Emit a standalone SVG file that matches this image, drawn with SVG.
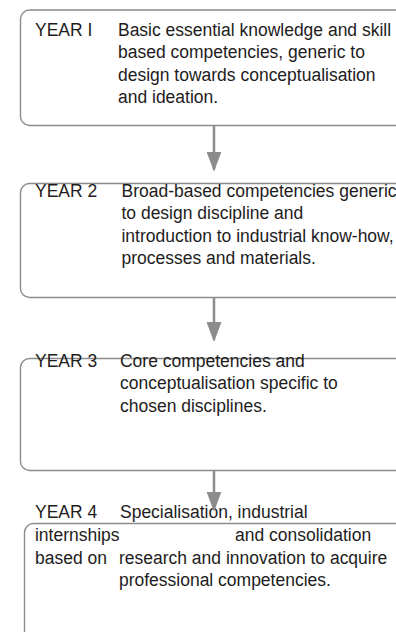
<svg xmlns="http://www.w3.org/2000/svg" width="396" height="632" viewBox="0 0 396 632">
<style>
.box{fill:#ffffff;stroke:#8c8c8c;stroke-width:1.4}
.t{font-family:'Liberation Sans',Arial,sans-serif;font-size:19px;fill:#1e1c1c}
.conn{stroke:#8c8c8c;stroke-width:2.5;fill:none}
</style>
<defs>
<marker id="ah" viewBox="0 0 20 15" refX="18" refY="7.5" markerWidth="20" markerHeight="15" markerUnits="userSpaceOnUse" orient="auto">
<path d="M0,0 L20,7.5 L0,15 z" fill="#8c8c8c"/>
</marker>
</defs>
<rect width="396" height="632" fill="#ffffff"/>
<g id="year1">
<rect class="box" x="20.5" y="10" width="420" height="115.5" rx="9"/>
<g transform="scale(0.921,1)">
<text class="t" x="38" y="35.7">YEAR I</text>
<text class="t" x="128.1" y="35.7">Basic essential knowledge and skill</text>
<text class="t" x="128.1" y="58.2">based competencies, generic to</text>
<text class="t" x="128.1" y="80.7">design towards conceptualisation</text>
<text class="t" x="128.1" y="103.2">and ideation.</text>
</g>
</g>
<g id="year2">
<rect class="box" x="20.5" y="183.5" width="420" height="114" rx="9"/>
<g transform="scale(0.921,1)">
<text class="t" x="38" y="196.7">YEAR 2</text>
<text class="t" x="131.9" y="196.7">Broad-based competencies generic</text>
<text class="t" x="131.9" y="219.2">to design discipline and</text>
<text class="t" x="131.9" y="241.7">introduction to industrial know-how,</text>
<text class="t" x="131.9" y="264.2">processes and materials.</text>
</g>
</g>
<g id="year3">
<rect class="box" x="20.5" y="358.5" width="420" height="112" rx="9"/>
<g transform="scale(0.921,1)">
<text class="t" x="38" y="366.7">YEAR 3</text>
<text class="t" x="130.3" y="366.7">Core competencies and</text>
<text class="t" x="130.3" y="389.2">conceptualisation specific to</text>
<text class="t" x="130.3" y="411.7">chosen disciplines.</text>
</g>
</g>
<g id="year4">
<rect class="box" x="24.5" y="523.5" width="420" height="160" rx="9"/>
<g transform="scale(0.921,1)">
<text class="t" x="38" y="518.5">YEAR 4</text>
<text class="t" x="130.3" y="518.5">Specialisation, industrial</text>
<text class="t" x="38" y="541.5">internships</text>
<text class="t" x="255.2" y="541.5">and consolidation</text>
<text class="t" x="38" y="564">based on</text>
<text class="t" x="129.2" y="564">research and innovation to acquire</text>
<text class="t" x="129.2" y="586.5">professional competencies.</text>
</g>
</g>
<g id="connectors">
<line class="conn" x1="214" y1="126" x2="214" y2="169.7" marker-end="url(#ah)"/>
<line class="conn" x1="214" y1="298" x2="214" y2="340" marker-end="url(#ah)"/>
<line class="conn" x1="214" y1="471" x2="214" y2="509.7" marker-end="url(#ah)"/>
</g>
</svg>
